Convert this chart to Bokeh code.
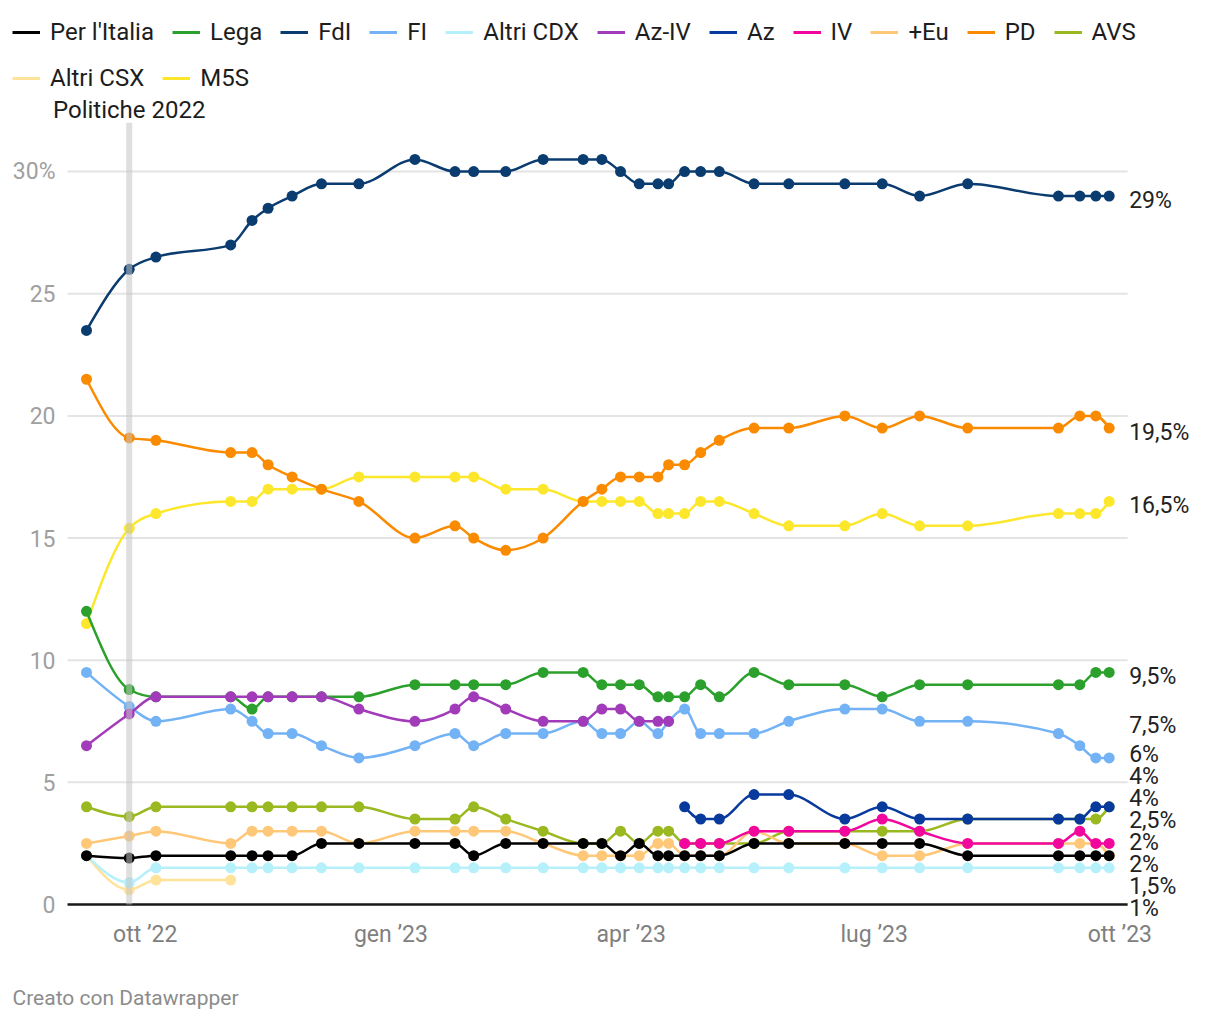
import numpy as np
import pandas as pd
from bokeh.plotting import figure
from bokeh.layouts import column
from bokeh.models import (ColumnDataSource, Range1d, FixedTicker, Legend, LegendItem,
                          LabelSet, Label)
from bokeh.core.properties import value
from bokeh.embed import file_html
from bokeh.resources import INLINE

# ---------------- data ----------------
dates = ["2022-09-09", "2022-09-25", "2022-10-05", "2022-11-02", "2022-11-10", "2022-11-16",
         "2022-11-25", "2022-12-06", "2022-12-20", "2023-01-10", "2023-01-25", "2023-02-01",
         "2023-02-13", "2023-02-27", "2023-03-14", "2023-03-21", "2023-03-28", "2023-04-04",
         "2023-04-11", "2023-04-15", "2023-04-21", "2023-04-27", "2023-05-04", "2023-05-17",
         "2023-05-30", "2023-06-20", "2023-07-04", "2023-07-18", "2023-08-05", "2023-09-08",
         "2023-09-16", "2023-09-22", "2023-09-27"]

N = None
per_italia = [2.0, 1.9, 2.0, 2.0, 2.0, 2.0, 2.0, 2.5, 2.5, 2.5, 2.5, 2.0, 2.5, 2.5, 2.5, 2.5, 2.0,
              2.5, 2.0, 2.0, 2.0, 2.0, 2.0, 2.5, 2.5, 2.5, 2.5, 2.5, 2.0, 2.0, 2.0, 2.0, 2.0]
lega = [12.0, 8.8, 8.5, 8.5, 8.0, 8.5, 8.5, 8.5, 8.5, 9.0, 9.0, 9.0, 9.0, 9.5, 9.5, 9.0, 9.0,
        9.0, 8.5, 8.5, 8.5, 9.0, 8.5, 9.5, 9.0, 9.0, 8.5, 9.0, 9.0, 9.0, 9.0, 9.5, 9.5]
fdi = [23.5, 26.0, 26.5, 27.0, 28.0, 28.5, 29.0, 29.5, 29.5, 30.5, 30.0, 30.0, 30.0, 30.5, 30.5,
       30.5, 30.0, 29.5, 29.5, 29.5, 30.0, 30.0, 30.0, 29.5, 29.5, 29.5, 29.5, 29.0, 29.5, 29.0,
       29.0, 29.0, 29.0]
fi = [9.5, 8.1, 7.5, 8.0, 7.5, 7.0, 7.0, 6.5, 6.0, 6.5, 7.0, 6.5, 7.0, 7.0, 7.5, 7.0, 7.0, 7.5,
      7.0, 7.5, 8.0, 7.0, 7.0, 7.0, 7.5, 8.0, 8.0, 7.5, 7.5, 7.0, 6.5, 6.0, 6.0]
altri_cdx = [2.0, 0.9, 1.5, 1.5, 1.5, 1.5, 1.5, 1.5, 1.5, 1.5, 1.5, 1.5, 1.5, 1.5, 1.5, 1.5, 1.5,
             1.5, 1.5, 1.5, 1.5, 1.5, 1.5, 1.5, 1.5, 1.5, 1.5, 1.5, 1.5, 1.5, 1.5, 1.5, 1.5]
az_iv = [6.5, 7.8, 8.5, 8.5, 8.5, 8.5, 8.5, 8.5, 8.0, 7.5, 8.0, 8.5, 8.0, 7.5, 7.5, 8.0, 8.0,
         7.5, 7.5, 7.5, N, N, N, N, N, N, N, N, N, N, N, N, N]
az = [N, N, N, N, N, N, N, N, N, N, N, N, N, N, N, N, N, N, N, N,
      4.0, 3.5, 3.5, 4.5, 4.5, 3.5, 4.0, 3.5, 3.5, 3.5, 3.5, 4.0, 4.0]
iv = [N, N, N, N, N, N, N, N, N, N, N, N, N, N, N, N, N, N, N, N,
      2.5, 2.5, 2.5, 3.0, 3.0, 3.0, 3.5, 3.0, 2.5, 2.5, 3.0, 2.5, 2.5]
piu_europa = [2.5, 2.8, 3.0, 2.5, 3.0, 3.0, 3.0, 3.0, 2.5, 3.0, 3.0, 3.0, 3.0, 2.5, 2.0, 2.0, 2.0,
              2.0, 2.5, 2.5, 2.0, 2.0, 2.0, 3.0, 2.5, 2.5, 2.0, 2.0, 2.5, 2.5, 2.5, 2.5, 2.0]
pd_ = [21.5, 19.1, 19.0, 18.5, 18.5, 18.0, 17.5, 17.0, 16.5, 15.0, 15.5, 15.0, 14.5, 15.0, 16.5,
       17.0, 17.5, 17.5, 17.5, 18.0, 18.0, 18.5, 19.0, 19.5, 19.5, 20.0, 19.5, 20.0, 19.5, 19.5,
       20.0, 20.0, 19.5]
avs = [4.0, 3.6, 4.0, 4.0, 4.0, 4.0, 4.0, 4.0, 4.0, 3.5, 3.5, 4.0, 3.5, 3.0, 2.5, 2.5, 3.0, 2.5,
       3.0, 3.0, 2.5, 2.5, 2.5, 2.5, 3.0, 3.0, 3.0, 3.0, 3.5, 3.5, 3.5, 3.5, 4.0]
altri_csx = [2.0, 0.6, 1.0, 1.0, N, N, N, N, N, N, N, N, N, N, N, N, N, N, N, N, N, N, N, N, N,
             N, N, N, N, N, N, N, N]
m5s = [11.5, 15.4, 16.0, 16.5, 16.5, 17.0, 17.0, 17.0, 17.5, 17.5, 17.5, 17.5, 17.0, 17.0, 16.5,
       16.5, 16.5, 16.5, 16.0, 16.0, 16.0, 16.5, 16.5, 16.0, 15.5, 15.5, 16.0, 15.5, 15.5, 16.0,
       16.0, 16.0, 16.5]

series_names = ["Per l'Italia", "Lega", "FdI", "FI", "Altri CDX", "Az-IV", "Az", "IV", "+Eu",
                "PD", "AVS", "Altri CSX", "M5S"]
series_values = [per_italia, lega, fdi, fi, altri_cdx, az_iv, az, iv, piu_europa, pd_, avs,
                 altri_csx, m5s]
series_colors = ["#000000", "#2ca02c", "#0b3c70", "#72b2f5", "#b5f0fb", "#a23bb9", "#08399c",
                 "#f2079e", "#ffc878", "#fa8b00", "#9ab820", "#ffe39a", "#fde72c"]
# drawing order, bottom -> top
draw_order = ["AVS", "+Eu", "Altri CSX", "Altri CDX", "M5S", "PD", "FdI", "Lega", "FI",
              "Az-IV", "Az", "IV", "Per l'Italia"]

tick_dates = ["2022-10-01", "2023-01-01", "2023-04-01", "2023-07-01", "2023-10-01"]
tick_labels = ["ott \u201922", "gen \u201923", "apr \u201923", "lug \u201923", "ott \u201923"]
y_ticks = [0, 5, 10, 15, 20, 25, 30]
y_tick_labels = ["0", "5", "10", "15", "20", "25", "30%"]
event_dates = ["2022-09-25"]
event_labels = ["Politiche 2022"]
footer_text = "Creato con Datawrapper"

# ---------------- helpers ----------------
DAY = 86400000.0
FONT = "Roboto"


def to_ms(d):
    return pd.Timestamp(d).value / 1e6


date_ms = [to_ms(d) for d in dates]


def monotone_segments(xs, ys):
    """d3.curveMonotoneX cubic segments (x in ms, y in data units)."""
    n = len(xs)
    out = []
    if n < 2:
        return out
    d = [x / DAY for x in xs]
    t = [0.0] * n
    if n == 2:
        s = (ys[1] - ys[0]) / (d[1] - d[0])
        t = [s, s]
    else:
        for i in range(1, n - 1):
            h0 = d[i] - d[i - 1]
            h1 = d[i + 1] - d[i]
            s0 = (ys[i] - ys[i - 1]) / h0
            s1 = (ys[i + 1] - ys[i]) / h1
            p_ = (s0 * h1 + s1 * h0) / (h0 + h1)
            t[i] = (np.sign(s0) + np.sign(s1)) * min(abs(s0), abs(s1), 0.5 * abs(p_))
        t[0] = (3 * (ys[1] - ys[0]) / (d[1] - d[0]) - t[1]) / 2
        t[-1] = (3 * (ys[-1] - ys[-2]) / (d[-1] - d[-2]) - t[-2]) / 2
    for i in range(n - 1):
        dx = (d[i + 1] - d[i]) / 3
        out.append((xs[i], ys[i], xs[i + 1], ys[i + 1],
                    (d[i] + dx) * DAY, ys[i] + dx * t[i],
                    (d[i + 1] - dx) * DAY, ys[i + 1] - dx * t[i + 1]))
    return out


def runs(vals):
    cur_x, cur_y, res = [], [], []
    for x, v in zip(date_ms, vals):
        if v is None:
            if cur_x:
                res.append((cur_x, cur_y))
            cur_x, cur_y = [], []
        else:
            cur_x.append(x)
            cur_y.append(v)
    if cur_x:
        res.append((cur_x, cur_y))
    return res


# ---------------- main figure ----------------
W = 1212
zero_px = 904          # pixel row of the value 0
frame_h = 920          # frame reaches a little below the baseline
MB = 30                # room for the x tick labels
H1 = frame_h + MB
px_per_unit = 24.43
y_start = -(frame_h - zero_px) / px_per_unit
y_end = zero_px / px_per_unit
px_per_day = 2.6702

x_start = date_ms[0] - 86 / px_per_day * DAY
x_end = x_start + W / px_per_day * DAY
grid_x0 = date_ms[0] - 7.1 * DAY
grid_x1 = date_ms[-1] + 6.9 * DAY

p = figure(width=W, height=H1, x_axis_type="datetime", output_backend="svg",
           toolbar_location=None, title=None,
           x_range=Range1d(x_start, x_end), y_range=Range1d(y_start, y_end),
           min_border_left=0, min_border_right=0, min_border_top=0, min_border_bottom=MB)
p.outline_line_color = None
p.background_fill_color = "white"
p.border_fill_color = "white"
p.xgrid.visible = False
p.ygrid.visible = False
p.yaxis.visible = False

# x axis
tick_ms = [to_ms(d) for d in tick_dates]
p.xaxis.ticker = FixedTicker(ticks=tick_ms)
p.xaxis.major_label_overrides = {t: l for t, l in zip(tick_ms, tick_labels)}
p.xaxis.axis_line_color = None
p.xaxis.major_tick_line_color = None
p.xaxis.minor_tick_line_color = None
p.xaxis.major_tick_out = 0
p.xaxis.major_tick_in = 0
p.xaxis.major_label_standoff = 0
p.xaxis.major_label_text_font = FONT
p.xaxis.major_label_text_font_size = "23px"
p.xaxis.major_label_text_color = "#808080"

# y grid + labels
p.segment(x0=[grid_x0] * len(y_ticks), y0=y_ticks, x1=[grid_x1] * len(y_ticks), y1=y_ticks,
          line_color="#e4e4e4", line_width=2)
p.text(x=[grid_x0] * len(y_ticks), y=y_ticks, text=y_tick_labels, x_offset=-12,
       text_align="right", text_baseline="middle", text_font=value(FONT),
       text_font_size=value("23px"), text_color="#a0a0a0")
# baseline
p.segment(x0=[grid_x0], y0=[0], x1=[grid_x1], y1=[0], line_color="#1a1a1a", line_width=2.5)

# ---------------- series ----------------
name_idx = {n: i for i, n in enumerate(series_names)}
for name in draw_order:
    i = name_idx[name]
    vals = series_values[i]
    col = series_colors[i]
    for xs, ys in runs(vals):
        segs = monotone_segments(xs, ys)
        if segs:
            arr = list(zip(*segs))
            src = ColumnDataSource(dict(x0=arr[0], y0=arr[1], x1=arr[2], y1=arr[3],
                                        cx0=arr[4], cy0=arr[5], cx1=arr[6], cy1=arr[7]))
            p.bezier(x0="x0", y0="y0", x1="x1", y1="y1", cx0="cx0", cy0="cy0",
                     cx1="cx1", cy1="cy1", source=src, line_color=col, line_width=2.5,
                     line_cap="round")
        p.scatter(x=xs, y=ys, size=11, fill_color=col, line_color=None)

# election band on top
ev_ms = [to_ms(d) for d in event_dates]
band_top = 32.0
p.segment(x0=ev_ms, y0=[0] * len(ev_ms), x1=ev_ms, y1=[band_top] * len(ev_ms),
          line_color="#c4c4c4", line_alpha=0.55, line_width=6, line_cap="butt")
for xm, lab in zip(ev_ms, event_labels):
    p.add_layout(Label(x=xm, y=band_top, text=lab, text_align="center",
                       text_baseline="middle", y_offset=13, text_font=FONT,
                       text_font_size="24px", text_color="#1d1d1d"))

# ---------------- end labels with collision avoidance ----------------
last_vals = []
for vals in series_values:
    last_vals.append([v for v in vals if v is not None][-1])


def fmt(v):
    s = ("%g" % v).replace(".", ",")
    return s + "%"


gap = 22 / px_per_unit
floor = 0.0
order = sorted(range(len(last_vals)), key=lambda k: -last_vals[k])


def centre(c):
    m = float(np.mean([last_vals[j] for j in c]))
    return max(m, floor + (len(c) - 1) * gap / 2)


clusters = []
for k in order:
    clusters.append([k])
    changed = True
    while changed:
        changed = False
        cents = [centre(c) for c in clusters]
        for ci in range(len(clusters) - 1):
            a_bottom = cents[ci] - (len(clusters[ci]) - 1) * gap / 2
            b_top = cents[ci + 1] + (len(clusters[ci + 1]) - 1) * gap / 2
            if a_bottom - b_top < gap - 1e-9:
                clusters[ci] = clusters[ci] + clusters[ci + 1]
                del clusters[ci + 1]
                changed = True
                break
label_pos = [0.0] * len(last_vals)
for c in clusters:
    top = centre(c) + (len(c) - 1) * gap / 2
    for r, j in enumerate(c):
        label_pos[j] = top - r * gap

lab_src = ColumnDataSource(dict(x=[date_ms[-1]] * len(series_names), y=label_pos,
                                text=[fmt(v) for v in last_vals]))
p.add_layout(LabelSet(x="x", y="y", text="text", source=lab_src, x_offset=20, y_offset=-4,
                      text_baseline="middle", text_align="left", text_font=value(FONT),
                      text_font_size=value("23px"), text_color="#222222"))

# ---------------- legend ----------------
items = []
for name, col in zip(series_names, series_colors):
    r = p.line(x=[date_ms[0]], y=[float("nan")], line_color=col, line_width=3)
    items.append(LegendItem(label=name, renderers=[r]))


def make_legend(its, loc):
    return Legend(items=its, orientation="horizontal", location=loc, glyph_width=28,
                  glyph_height=30, label_height=30, label_standoff=10, spacing=18,
                  padding=0, margin=0, label_text_font=FONT, label_text_font_size="24px",
                  label_text_color="#1d1d1d", background_fill_alpha=0, border_line_alpha=0)


p.add_layout(make_legend(items[:11], (12, frame_h - 47)))
p.add_layout(make_legend(items[11:], (12, frame_h - 93)))

# ---------------- footer strip ----------------
H2 = 62
f = figure(width=W, height=H2, output_backend="svg", toolbar_location=None, title=None,
           x_range=Range1d(0, W), y_range=Range1d(0, H2),
           min_border_left=0, min_border_right=0, min_border_top=0, min_border_bottom=0)
f.axis.visible = False
f.grid.visible = False
f.outline_line_color = None
f.border_fill_color = "white"
f.text(x=[12], y=[15], text=[footer_text], text_align="left", text_baseline="middle",
       text_font=value(FONT), text_font_size=value("21px"), text_color="#8c8c8c")

layout = column(p, f, spacing=0)
open("out.html", "w").write(file_html(layout, INLINE))
